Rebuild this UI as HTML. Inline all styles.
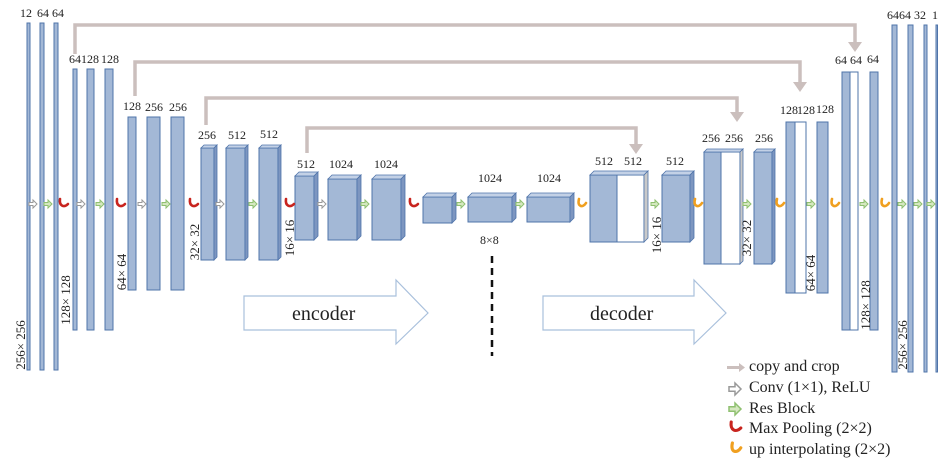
<!DOCTYPE html>
<html><head><meta charset="utf-8"><style>
body{margin:0;background:#fff}
svg{display:block}
text{font-family:"Liberation Serif",serif;fill:#222}
</style></head><body>
<svg width="950" height="462" viewBox="0 0 950 462" xmlns="http://www.w3.org/2000/svg">
<defs>
<g id="conv"><path d="M-4,-1.5 h4 v-2.5 l4,4 l-4,4 v-2.5 h-4 z" fill="#fff" stroke="#999" stroke-width="1"/></g>
<g id="res"><path d="M-4,-1.5 h4 v-2.5 l4,4 l-4,4 v-2.5 h-4 z" fill="#d5e8c0" stroke="#8fc070" stroke-width="1"/></g>
<g id="pool"><path d="M-4,-5 C-5,2 0,4 4,0" fill="none" stroke="#c8241e" stroke-width="2.6" stroke-linecap="round"/></g>
<g id="up"><path d="M-3,-5 C-5,3 1,4 4,-1" fill="none" stroke="#f0a020" stroke-width="2.6" stroke-linecap="round"/></g>
</defs>

<!-- skip connections -->
<g fill="none" stroke="#cbbfbd" stroke-width="3.5">
<path d="M75,54 V25 H855 V44"/>
<path d="M135,96 V62 H800 V84"/>
<path d="M206,125 V98 H737 V114"/>
<path d="M307,153 V128 H636 V146"/>
</g>
<g fill="#cbbfbd">
<path d="M848,42 h14 l-7,10 z"/><path d="M793,82 h14 l-7,10 z"/>
<path d="M730,112 h14 l-7,10 z"/><path d="M629,144 h14 l-7,10 z"/>
</g>

<g stroke="#4f74aa" stroke-width="1">
<g fill="#a3b8d6">
<rect x="27" y="23" width="3" height="347"/>
<rect x="40" y="23" width="4" height="347"/>
<rect x="54" y="23" width="4" height="347"/>
<rect x="73" y="69" width="4" height="261"/>
<rect x="87" y="69" width="7" height="261"/>
<rect x="105" y="69" width="8" height="261"/>
<rect x="128" y="117" width="8" height="173"/>
<rect x="147" y="117" width="13" height="173"/>
<rect x="171" y="117" width="13" height="173"/>
<rect x="201" y="148" width="13" height="112"/>
<rect x="226" y="148" width="19" height="112"/>
<rect x="259" y="148" width="19" height="112"/>
<rect x="295" y="176" width="19" height="64"/>
<rect x="328" y="179" width="29" height="61"/>
<rect x="372" y="179" width="29" height="61"/>
<rect x="423" y="197" width="29" height="26"/>
<rect x="468" y="197" width="44" height="25"/>
<rect x="527" y="197" width="43" height="25"/>
<rect x="590" y="175" width="27" height="67"/>
<rect x="662" y="175" width="28" height="67"/>
<rect x="704" y="152" width="17" height="112"/>
<rect x="754" y="152" width="18" height="112"/>
<rect x="786" y="122" width="9" height="171"/>
<rect x="817" y="122" width="11" height="171"/>
<rect x="842" y="72" width="8" height="258"/>
<rect x="870" y="72" width="8" height="258"/>
<rect x="892" y="25" width="5" height="347"/>
<rect x="908" y="25" width="5" height="347"/>
<rect x="924" y="25" width="3" height="347"/>
<rect x="936" y="25" width="1.5" height="347"/>
</g>
<g fill="#fff">
<rect x="617" y="175" width="27" height="67"/>
<rect x="721" y="152" width="19" height="112"/>
<rect x="795" y="122" width="11" height="171"/>
<rect x="850" y="72" width="8" height="258"/>
</g>
</g>
<g stroke="#4f74aa" stroke-width="0.8">
<g fill="#c3d1e6">
<path d="M201,148 l3,-3 h13 l-3,3z"/><path d="M226,148 l3,-3 h19 l-3,3z"/><path d="M259,148 l3,-3 h19 l-3,3z"/>
<path d="M295,176 l4,-4 h19 l-4,4z"/><path d="M328,179 l4,-4 h29 l-4,4z"/><path d="M372,179 l4,-4 h29 l-4,4z"/>
<path d="M423,197 l4,-4 h29 l-4,4z"/><path d="M468,197 l4,-4 h44 l-4,4z"/><path d="M527,197 l4,-4 h43 l-4,4z"/>
<path d="M590,175 l4,-4 h54 l-4,4z"/><path d="M662,175 l4,-4 h28 l-4,4z"/>
<path d="M704,152 l3,-3 h36 l-3,3z"/><path d="M754,152 l3,-3 h18 l-3,3z"/>
</g>
<g fill="#7d96c0">
<path d="M214,148 l3,-3 v112 l-3,3z"/><path d="M245,148 l3,-3 v112 l-3,3z"/><path d="M278,148 l3,-3 v112 l-3,3z"/>
<path d="M314,176 l4,-4 v64 l-4,4z"/><path d="M357,179 l4,-4 v61 l-4,4z"/><path d="M401,179 l4,-4 v61 l-4,4z"/>
<path d="M452,197 l4,-4 v26 l-4,4z"/><path d="M512,197 l4,-4 v25 l-4,4z"/><path d="M570,197 l4,-4 v25 l-4,4z"/>
<path d="M644,175 l4,-4 v67 l-4,4z" fill="#c9c9c9"/><path d="M690,175 l4,-4 v67 l-4,4z"/>
<path d="M740,152 l3,-3 v112 l-3,3z" fill="#c9c9c9"/><path d="M772,152 l3,-3 v112 l-3,3z"/>
</g>
</g>

<g transform="translate(0,204)">
<use href="#conv" x="33"/><use href="#res" x="48"/><use href="#pool" x="64"/>
<use href="#conv" x="81"/><use href="#res" x="100"/><use href="#pool" x="121"/>
<use href="#conv" x="142"/><use href="#res" x="166"/><use href="#pool" x="194"/>
<use href="#conv" x="220"/><use href="#res" x="253"/><use href="#pool" x="290"/>
<use href="#conv" x="322"/><use href="#res" x="365"/><use href="#pool" x="414"/>
<use href="#res" x="461"/><use href="#res" x="520"/><use href="#up" x="582"/>
<use href="#res" x="655"/><use href="#up" x="698"/><use href="#res" x="747"/>
<use href="#up" x="780"/><use href="#res" x="811"/><use href="#up" x="835"/>
<use href="#res" x="864"/><use href="#up" x="885"/><use href="#res" x="902"/>
<use href="#res" x="918"/><use href="#res" x="931"/>
</g>

<g font-size="12">
<text x="20" y="17">12</text><text x="37" y="17">64</text><text x="52" y="17">64</text>
<text x="69" y="63">64</text><text x="81" y="63">128</text><text x="101" y="63">128</text>
<text x="123" y="110">128</text><text x="145" y="111">256</text><text x="169" y="111">256</text>
<text x="198" y="139">256</text><text x="228" y="139">512</text><text x="260" y="138">512</text>
<text x="297" y="168">512</text><text x="329" y="168">1024</text><text x="374" y="168">1024</text>
<text x="478" y="182">1024</text><text x="537" y="182">1024</text>
<text x="480" y="244">8×8</text>
<text x="595" y="165">512</text><text x="624" y="165">512</text><text x="666" y="165">512</text>
<text x="702" y="142">256</text><text x="725" y="142">256</text><text x="755" y="142">256</text>
<text x="780" y="114">128</text><text x="797" y="114">128</text><text x="816" y="113">128</text>
<text x="835" y="64">64</text><text x="850" y="64">64</text><text x="867" y="63">64</text>
<text x="887" y="19">64</text><text x="899" y="19">64</text><text x="914" y="19">32</text><text x="932" y="19">1</text>
</g>
<g font-size="13">
<text transform="translate(25,345) rotate(-90)" text-anchor="middle">256× 256</text>
<text transform="translate(70,300) rotate(-90)" text-anchor="middle">128× 128</text>
<text transform="translate(126,272) rotate(-90)" text-anchor="middle">64× 64</text>
<text transform="translate(199,242) rotate(-90)" text-anchor="middle">32× 32</text>
<text transform="translate(294,238) rotate(-90)" text-anchor="middle">16× 16</text>
<text transform="translate(661,235) rotate(-90)" text-anchor="middle">16× 16</text>
<text transform="translate(751,238) rotate(-90)" text-anchor="middle">32× 32</text>
<text transform="translate(815,273) rotate(-90)" text-anchor="middle">64× 64</text>
<text transform="translate(870,305) rotate(-90)" text-anchor="middle">128× 128</text>
<text transform="translate(907,345) rotate(-90)" text-anchor="middle">256× 256</text>
</g>

<path d="M244,296 H396 V280 L428,313 L396,344 V330 H244 Z" fill="#fff" stroke="#a9c0dc" stroke-width="1.2"/>
<text x="292" y="320" font-size="20">encoder</text>
<path d="M543,296 H694 V280 L726,313 L694,344 V330 H543 Z" fill="#fff" stroke="#a9c0dc" stroke-width="1.2"/>
<text x="590" y="320" font-size="20">decoder</text>
<line x1="492" y1="256" x2="492" y2="356" stroke="#111" stroke-width="2.5" stroke-dasharray="7,5"/>

<g font-size="16">
<path d="M727,366 h12 v-3 l6,4.5 l-6,4.5 v-3 h-12z" fill="#cbbfbd"/>
<text x="749" y="371">copy and crop</text>
<g transform="translate(735,389)"><use href="#conv" transform="scale(1.5)"/></g>
<text x="749" y="392">Conv (1×1), ReLU</text>
<g transform="translate(735,409)"><use href="#res" transform="scale(1.5)"/></g>
<text x="749" y="413">Res Block</text>
<g transform="translate(736,428)"><use href="#pool" transform="scale(1.2)"/></g>
<text x="749" y="433">Max Pooling (2×2)</text>
<g transform="translate(736,449)"><use href="#up" transform="scale(1.2)"/></g>
<text x="749" y="454">up interpolating (2×2)</text>
</g>
</svg>
</body></html>
